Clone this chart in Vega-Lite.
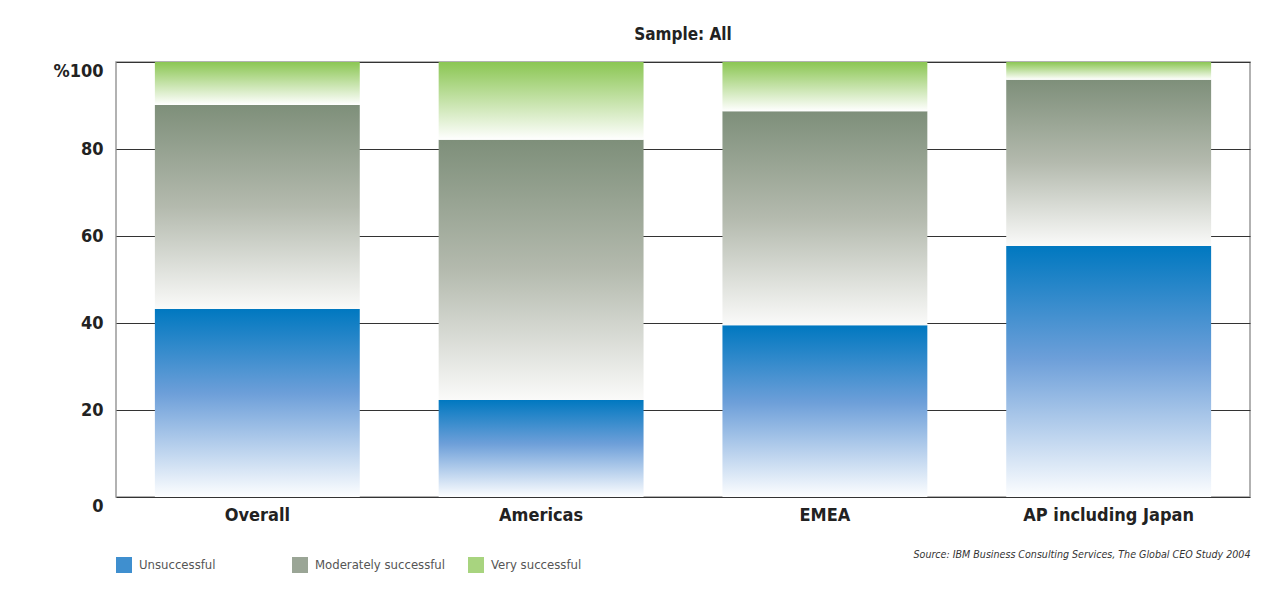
{
  "$schema": "https://vega.github.io/schema/vega-lite/v6.json",
  "width": 1134,
  "height": 435,
  "autosize": {"type": "none"},
  "padding": {"left": 116, "top": 62, "right": 37, "bottom": 93},
  "background": "#ffffff",
  "title": {
    "text": "Sample: All",
    "anchor": "middle",
    "frame": "group",
    "font": "DejaVu Sans Condensed, sans-serif",
    "fontSize": 17,
    "fontWeight": "bold",
    "color": "#222222",
    "baseline": "alphabetic",
    "offset": 5
  },
  "data": {
    "values": [
      {"region": "Overall", "outcome": "Unsuccessful", "k": 1, "pct": 43.2},
      {"region": "Overall", "outcome": "Moderately successful", "k": 2, "pct": 46.9},
      {"region": "Overall", "outcome": "Very successful", "k": 3, "pct": 9.9},
      {"region": "Americas", "outcome": "Unsuccessful", "k": 1, "pct": 22.3},
      {"region": "Americas", "outcome": "Moderately successful", "k": 2, "pct": 59.8},
      {"region": "Americas", "outcome": "Very successful", "k": 3, "pct": 17.9},
      {"region": "EMEA", "outcome": "Unsuccessful", "k": 1, "pct": 39.5},
      {"region": "EMEA", "outcome": "Moderately successful", "k": 2, "pct": 49.2},
      {"region": "EMEA", "outcome": "Very successful", "k": 3, "pct": 11.3},
      {"region": "AP including Japan", "outcome": "Unsuccessful", "k": 1, "pct": 57.7},
      {"region": "AP including Japan", "outcome": "Moderately successful", "k": 2, "pct": 38.2},
      {"region": "AP including Japan", "outcome": "Very successful", "k": 3, "pct": 4.1}
    ]
  },
  "transform": [
    {"stack": "pct", "groupby": ["region"], "sort": [{"field": "k", "order": "ascending"}], "as": ["y0", "y1"]}
  ],
  "encoding": {
    "x": {
      "field": "region",
      "type": "nominal",
      "sort": ["Overall", "Americas", "EMEA", "AP including Japan"],
      "scale": {"paddingInner": 0.278, "paddingOuter": 0.137},
      "axis": {
        "title": "Source: IBM Business Consulting Services, The Global CEO Study 2004",
        "titleAnchor": "end",
        "titleFont": "DejaVu Sans Condensed, sans-serif",
        "titleFontSize": 10.6,
        "titleFontStyle": "italic",
        "titleFontWeight": "normal",
        "titleColor": "#333333",
        "titlePadding": 25,
        "labelAngle": 0,
        "labelLimit": 0,
        "labelFont": "DejaVu Sans Condensed, sans-serif",
        "labelFontSize": 18,
        "labelFontWeight": "bold",
        "labelColor": "#222222",
        "labelPadding": 9,
        "ticks": false,
        "domain": false
      }
    },
    "y": {
      "field": "y1",
      "type": "quantitative",
      "scale": {"domain": [0, 100], "nice": false},
      "axis": {
        "title": null,
        "values": [0, 20, 40, 60, 80, 100],
        "labelExpr": "datum.value == 100 ? '%100' : datum.label",
        "labelFont": "DejaVu Sans Condensed, sans-serif",
        "labelFontSize": 18,
        "labelFontWeight": "bold",
        "labelColor": "#222222",
        "labelPadding": 13,
        "labelBaseline": {"condition": {"test": "datum.value == 0 || datum.value == 100", "value": "top"}, "value": "middle"},
        "ticks": false,
        "domain": false,
        "grid": true,
        "gridColor": "#333333",
        "gridWidth": 1,
        "gridOpacity": 1
      }
    },
    "y2": {"field": "y0"}
  },
  "layer": [
    {
      "transform": [{"filter": "datum.outcome == 'Unsuccessful'"}],
      "mark": {"type": "bar", "strokeWidth": 0, "color": {"gradient": "linear", "x1": 0, "y1": 0, "x2": 0, "y2": 1, "stops": [{"offset": 0, "color": "#0078c0"}, {"offset": 0.45, "color": "#6d9fd9"}, {"offset": 1, "color": "#fdfeff"}]}}
    },
    {
      "transform": [{"filter": "datum.outcome == 'Moderately successful'"}],
      "mark": {"type": "bar", "strokeWidth": 0, "color": {"gradient": "linear", "x1": 0, "y1": 0, "x2": 0, "y2": 1, "stops": [{"offset": 0, "color": "#7e8f7a"}, {"offset": 0.5, "color": "#b4baae"}, {"offset": 1, "color": "#fafaf9"}]}}
    },
    {
      "transform": [{"filter": "datum.outcome == 'Very successful'"}],
      "mark": {"type": "bar", "strokeWidth": 0, "color": {"gradient": "linear", "x1": 0, "y1": 0, "x2": 0, "y2": 1, "stops": [{"offset": 0, "color": "#8bc653"}, {"offset": 1, "color": "#ffffff"}]}}
    },
    {
      "mark": {"type": "bar", "opacity": 0, "strokeWidth": 0},
      "encoding": {
        "color": {
          "field": "outcome",
          "type": "nominal",
          "scale": {
            "domain": ["Unsuccessful", "Moderately successful", "Very successful"],
            "range": ["#3f8fcf", "#9aa596", "#a8d47f"]
          },
          "legend": {
            "title": null,
            "orient": "none",
            "legendX": 0,
            "legendY": 495,
            "direction": "horizontal",
            "columns": 3,
            "gridAlign": "all",
            "columnPadding": 22,
            "padding": 0,
            "symbolType": "square",
            "symbolSize": 256,
            "symbolStrokeWidth": 0,
            "symbolOpacity": 1,
            "labelOffset": 7,
            "labelFont": "DejaVu Sans Condensed, sans-serif",
            "labelFontSize": 13,
            "labelColor": "#555555"
          }
        }
      }
    }
  ],
  "config": {
    "view": {"stroke": "#999999", "strokeWidth": 1.5}
  }
}
